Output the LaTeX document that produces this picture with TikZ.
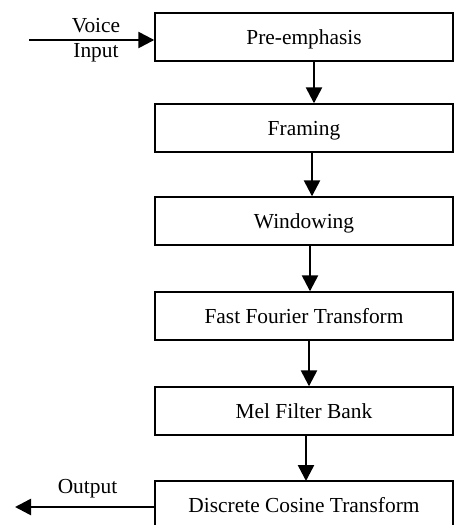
\documentclass[tikz,border=0pt]{standalone}
\usepackage{fontspec}
\setmainfont{Liberation Serif}
\usetikzlibrary{arrows.meta}
\begin{document}
\begin{tikzpicture}[x=1pt,y=-1pt,
  stage/.style={draw, line width=1.4pt, minimum width=298pt, minimum height=48pt,
    inner sep=0pt, text height=18pt, text depth=4pt,
    font=\fontsize{21.4}{23}\selectfont},
  flow/.style={line width=2.5pt, -{Triangle[length=16pt,width=16pt]}},
  lbl/.style={font=\fontsize{21.4}{23}\selectfont, inner sep=0pt, anchor=base}]
\useasboundingbox (0,0) rectangle (454,525);
% processing stages, top to bottom
\node[stage] (pre) at (304,37)  {Pre-emphasis};
\node[stage] (frm) at (304,128) {Framing};
\node[stage] (win) at (304,221) {Windowing};
\node[stage] (fft) at (304,316) {Fast Fourier Transform};
\node[stage] (mel) at (304,411) {Mel Filter Bank};
% last stage runs past the lower edge
\node[stage, draw=none, outer sep=0pt] (dct) at (304,505) {Discrete Cosine Transform};
\draw[line width=1.4pt] (dct.north west) rectangle ([yshift=-30pt]dct.south east);
% input and output ends
\coordinate (in)  at (29,40);
\coordinate (out) at (15,507);
\node[lbl] at (96,32.5) {Voice};
\node[lbl] at (96,57) {Input};
\node[lbl] at (87.5,493) {Output};
% connectors
\draw[flow] (in) -- (in -| pre.west);
\draw[flow] ([xshift=10pt]pre.south) -- ([xshift=10pt]pre.south |- frm.north);
\draw[flow] ([xshift=8pt]frm.south) -- ([xshift=8pt]frm.south |- win.north);
\draw[flow] ([xshift=6pt]win.south) -- ([xshift=6pt]win.south |- fft.north);
\draw[flow] ([xshift=5pt]fft.south) -- ([xshift=5pt]fft.south |- mel.north);
\draw[flow] ([xshift=2pt]mel.south) -- ([xshift=2pt]mel.south |- dct.north);
\draw[flow] (out -| dct.west) -- (out);
\end{tikzpicture}
\end{document}
